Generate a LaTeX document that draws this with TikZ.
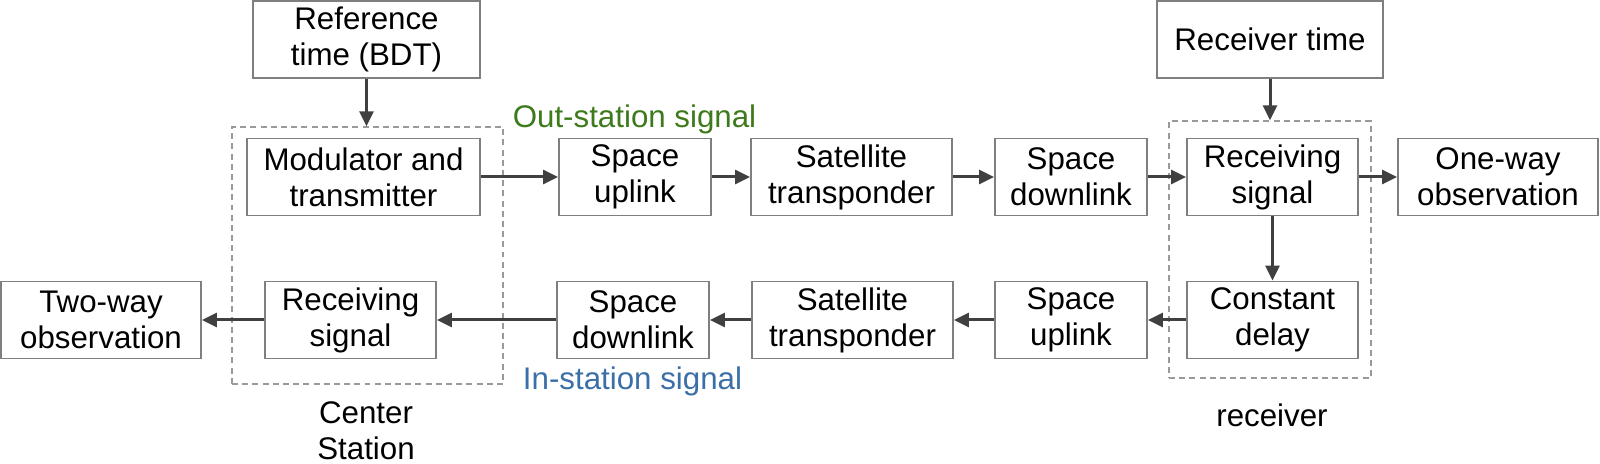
\documentclass[tikz,border=0pt]{standalone}
\usepackage{fontspec}
\setmainfont{Liberation Sans}
\usepackage{xcolor}
\usepackage{tikz}
\usetikzlibrary{arrows.meta,positioning}
\definecolor{edgec}{HTML}{7F7F7F}
\definecolor{linkc}{HTML}{404040}
\definecolor{outc}{HTML}{3D7A1B}
\definecolor{inc}{HTML}{3B6FA8}
\definecolor{grpc}{HTML}{9A9A9A}
\tikzset{
  blk/.style={draw=edgec,line width=1.1pt,fill=white,inner sep=0pt,align=center,
    font=\fontsize{17.8}{20.5}\selectfont,minimum height=1.54cm},
  grp/.style={draw=grpc,line width=0.8pt,dash pattern=on 3.4pt off 2.4pt,inner sep=0pt},
  flow/.style={-{Triangle[length=0.3cm,width=0.28cm]},line width=1.7pt,draw=linkc},
  sig/.style={font=\fontsize{17.8}{20.5}\selectfont,inner sep=0pt,anchor=base},
  site/.style={font=\fontsize{17.8}{20.5}\selectfont,inner sep=0pt,align=center},
}
\begin{document}
\begin{tikzpicture}
  \useasboundingbox (0,0) rectangle (32,9.28);
  % station groups
  \node[grp,minimum width=5.42cm,minimum height=5.14cm](cs) at (7.35,4.17){};
  \node[grp,minimum width=4.04cm,minimum height=5.14cm](rx) at (25.40,4.29){};
  % time sources
  \node[blk,minimum width=4.54cm](ref) at (7.33,8.49){Reference\\time (BDT)};
  \node[blk,minimum width=4.52cm](rtime) at (25.40,8.49){Receiver time};
  % out-station path
  \node[blk,minimum width=4.66cm](mod) at (7.27,5.74){Modulator and\\transmitter};
  \node[blk,minimum width=3.04cm](upa) at (12.70,5.74){Space\\uplink};
  \node[blk,minimum width=4.02cm](sata) at (17.03,5.74){Satellite\\transponder};
  \node[blk,minimum width=3.04cm](downa) at (21.42,5.74){Space\\downlink};
  \node[blk,minimum width=3.42cm](reca) at (25.45,5.74){Receiving\\signal};
  \node[blk,minimum width=4.00cm](oneway) at (29.96,5.74){One-way\\observation};
  % in-station path
  \node[blk,minimum width=3.42cm](delay) at (25.45,2.88){Constant\\delay};
  \node[blk,minimum width=3.04cm](upb) at (21.42,2.88){Space\\uplink};
  \node[blk,minimum width=4.02cm](satb) at (17.05,2.88){Satellite\\transponder};
  \node[blk,minimum width=3.04cm](downb) at (12.66,2.88){Space\\downlink};
  \node[blk,minimum width=3.42cm](recb) at (7.01,2.88){Receiving\\signal};
  \node[blk,minimum width=4.00cm](twoway) at (2.02,2.88){Two-way\\observation};
  % labels
  \node[sig,text=outc](outlab) at (12.69,6.72){Out-station signal};
  \node[sig,text=inc](inlab) at (12.65,1.48){In-station signal};
  \node[site,anchor=north](cslab) at (7.32,1.26){Center\\Station};
  \node[sig](rxlab) at (25.44,0.74){receiver};
  % connectors
  \draw[flow](ref.south)--(ref.south |- cs.north);
  \draw[flow](rtime.south)--(rtime.south |- rx.north);
  \draw[flow](reca)--(delay);
  \foreach \x/\y in {mod/upa,upa/sata,sata/downa,downa/reca,reca/oneway,
    delay/upb,upb/satb,satb/downb,downb/recb,recb/twoway}
    \draw[flow](\x)--(\y);
\end{tikzpicture}
\end{document}
